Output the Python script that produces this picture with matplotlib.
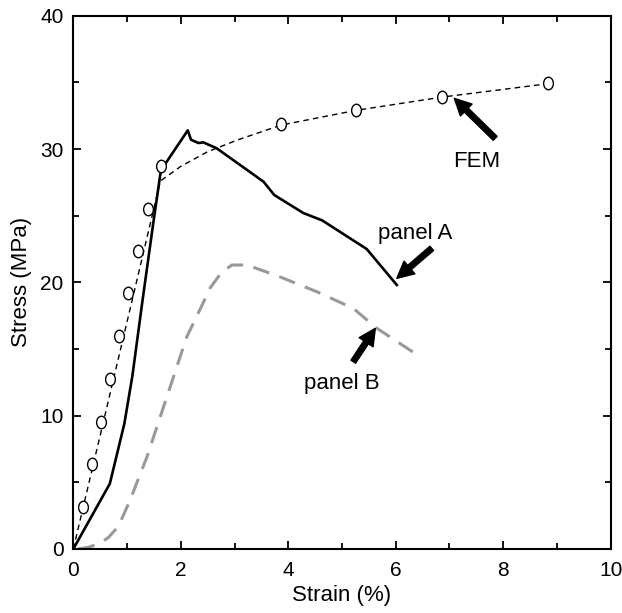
import matplotlib.pyplot as plt
from matplotlib.ticker import MultipleLocator
from matplotlib.path import Path
from matplotlib.transforms import Affine2D

plt.rcParams['font.family'] = ['Liberation Sans', 'DejaVu Sans']

# FEM curve (dashed line) and computed points (circles)
fem_line_x = [0, 1.62, 2.0, 2.5, 3.07, 3.87, 5.26, 6.87, 8.84]
fem_line_y = [0, 27.6, 28.7, 29.8, 30.7, 31.8, 32.9, 33.9, 34.9]
fem_pts_x = [0.175, 0.34, 0.51, 0.68, 0.845, 1.025, 1.2, 1.385, 1.63, 3.87, 5.26, 6.87, 8.84]
fem_pts_y = [3.17, 6.4, 9.55, 12.75, 15.98, 19.18, 22.35, 25.5, 28.73, 31.88, 32.93, 33.93, 34.93]

# panel A (solid black)
panel_a_x = [0, 0.68, 0.95, 1.1, 1.29, 1.49, 1.63, 2.13, 2.19, 2.33, 2.42, 2.67,
             3.07, 3.54, 3.74, 4.28, 4.63, 5.46, 6.02]
panel_a_y = [0, 4.9, 9.4, 13.0, 18.7, 24.5, 28.4, 31.4, 30.7, 30.45, 30.5, 30.05,
             28.9, 27.55, 26.55, 25.2, 24.65, 22.5, 19.8]

# panel B (grey dashed)
panel_b_x = [0.09, 0.3, 0.5, 0.65, 0.84, 1.06, 1.37, 1.74, 2.11, 2.35, 2.55, 2.75,
             2.95, 3.23, 3.79, 4.53, 5.21, 5.65, 6.46]
panel_b_y = [0, 0.15, 0.45, 0.85, 1.7, 3.7, 6.9, 11.4, 15.9, 17.9, 19.6, 20.7,
             21.3, 21.3, 20.5, 19.3, 18.05, 16.55, 14.4]

# slightly tall open circle like the original
oval = Path.unit_circle().transformed(Affine2D().scale(0.78, 1.0))

fig = plt.figure(figsize=(6.22, 6.13), dpi=100)
ax = fig.add_axes([73.3 / 622, 1 - 549 / 613, (610.7 - 73.3) / 622, (549 - 15.7) / 613])

ax.plot(fem_line_x, fem_line_y, color='black', lw=1.0, ls=(0, (4, 3)))
ax.plot(fem_pts_x, fem_pts_y, ls='none', marker=oval, ms=9, mfc='white',
        mec='black', mew=1.0, zorder=4)
ax.plot(panel_a_x, panel_a_y, color='black', lw=1.9)
ax.plot(panel_b_x, panel_b_y, color='#999999', lw=2.2, ls=(0, (5.5, 3.5)))

arrow = dict(arrowstyle='simple,head_width=1.2,head_length=1.2,tail_width=0.4',
             color='black', shrinkA=0, shrinkB=0)
ax.annotate('', xy=(7.09, 33.8), xytext=(7.85, 30.8), arrowprops=arrow)
ax.annotate('', xy=(6.02, 20.3), xytext=(6.67, 22.55), arrowprops=arrow)
ax.annotate('', xy=(5.62, 16.55), xytext=(5.21, 14.05), arrowprops=arrow)
ax.text(7.51, 29.05, 'FEM', fontsize=16, ha='center', va='center')
ax.text(6.36, 23.7, 'panel A', fontsize=16, ha='center', va='center')
ax.text(5.0, 12.45, 'panel B', fontsize=16, ha='center', va='center')

ax.set_xlim(0, 10)
ax.set_ylim(0, 40)
ax.xaxis.set_major_locator(MultipleLocator(2))
ax.xaxis.set_minor_locator(MultipleLocator(1))
ax.yaxis.set_major_locator(MultipleLocator(10))
ax.yaxis.set_minor_locator(MultipleLocator(5))
ax.tick_params(which='both', direction='in', top=True, right=True, width=1.3,
               labelsize=15)
ax.tick_params(axis='x', which='both', pad=9)
ax.tick_params(axis='y', which='both', pad=7)
ax.tick_params(which='major', length=6)
ax.tick_params(which='minor', length=4)
for s in ax.spines.values():
    s.set_linewidth(1.5)
ax.set_xlabel('Strain (%)', fontsize=16, labelpad=3)
ax.set_ylabel('Stress (MPa)', fontsize=16, labelpad=6)

fig.savefig('out.png', dpi=100)
